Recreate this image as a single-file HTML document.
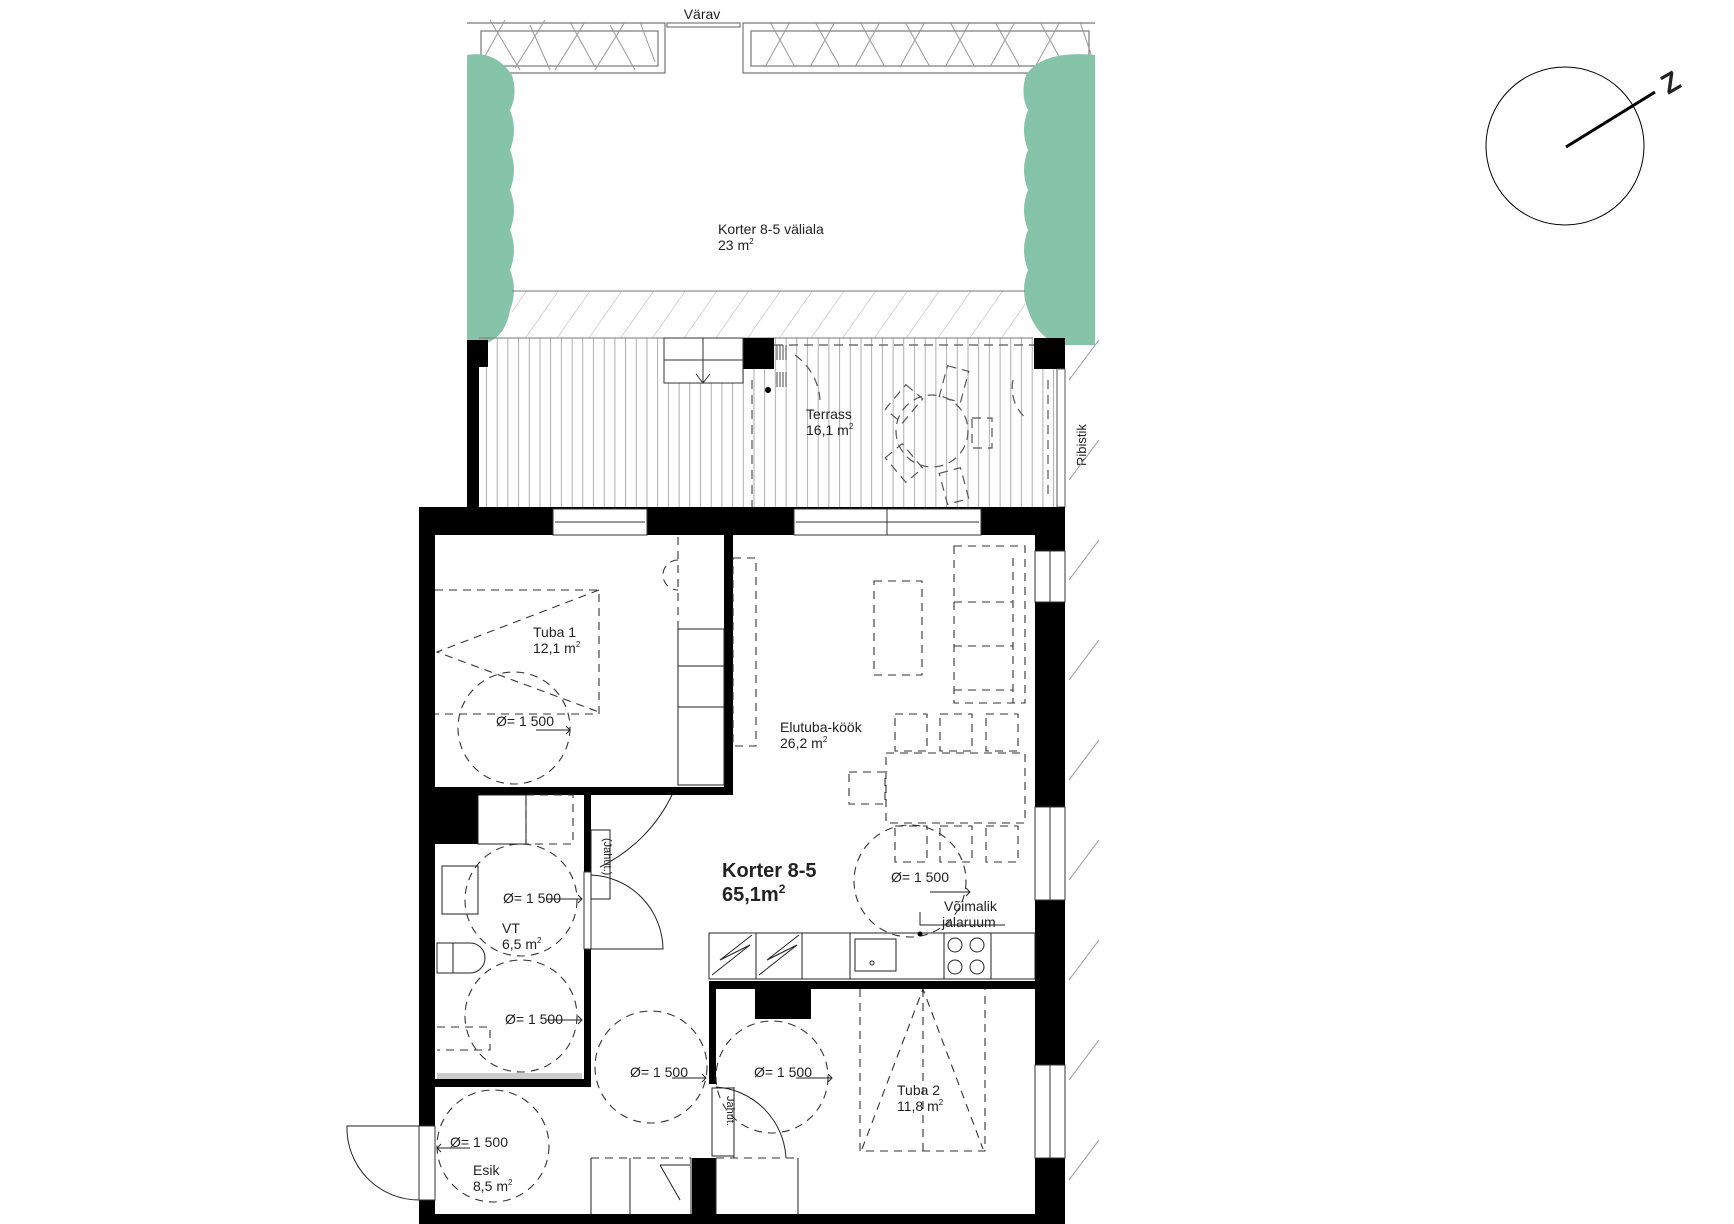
<!DOCTYPE html>
<html><head><meta charset="utf-8"><style>
html,body{margin:0;padding:0;background:#fff;}
svg{display:block;}
text{font-family:"Liberation Sans",sans-serif;fill:#222;}
</style></head><body>
<svg width="1734" height="1224" viewBox="0 0 1734 1224" xmlns="http://www.w3.org/2000/svg">
<defs>
<pattern id="vs" width="10.7" height="20" patternUnits="userSpaceOnUse"><line x1="5" y1="0" x2="5" y2="20" stroke="#999" stroke-width="0.8"/></pattern>
<pattern id="dg" width="26" height="26" patternUnits="userSpaceOnUse" patternTransform="rotate(35)"><line x1="0" y1="0" x2="0" y2="26" stroke="#999" stroke-width="0.8"/></pattern>
</defs>

<!-- planters -->
<g fill="none" stroke="#777" stroke-width="1.2">
<path d="M467 23 H665 V73 H481"/><rect x="481" y="31" width="177" height="35"/>
<rect x="667" y="23" width="73" height="4"/>
<path d="M1095 23 H743 V73 H1095"/><rect x="751" y="31" width="338" height="35"/>
</g>
<g stroke="#999" stroke-width="1" fill="none">
<path d="M490 20 l30 50 M505 20 l-25 45 M530 25 l20 45 M545 20 l-30 48 M570 22 l25 45 M585 22 l-30 48 M610 25 l25 45 M625 22 l-30 48 M640 22 l15 40"/>
<path d="M770 22 l25 45 M790 22 l-25 45 M815 22 l25 45 M835 22 l-25 45 M860 22 l25 45 M880 22 l-25 45 M905 22 l25 45 M925 22 l-25 45 M950 22 l25 45 M970 22 l-25 45 M995 22 l25 45 M1015 22 l-25 45 M1040 22 l25 45 M1060 22 l-25 45 M1080 22 l12 35"/>
</g>
<text x="702" y="19" font-size="14" text-anchor="middle">Värav</text>

<!-- hedges -->
<g fill="#86c4aa">
<path d="M467 55 Q495 50 512 75 Q518 95 510 110 Q518 130 510 150 Q518 170 510 190 Q518 210 510 230 Q518 250 510 270 Q518 290 510 310 Q505 340 480 345 L467 345 Z"/>
<path d="M1095 55 Q1043 50 1026 75 Q1020 95 1028 110 Q1020 130 1028 150 Q1020 170 1028 190 Q1020 210 1028 230 Q1020 250 1028 270 Q1020 290 1028 310 Q1038 340 1063 345 L1095 345 Z"/>
</g>
<text x="718" y="234" font-size="14">Korter 8-5 väliala</text>
<text x="718" y="250" font-size="14">23 m<tspan font-size="8" dy="-6">2</tspan></text>

<!-- hatched band -->
<rect x="512" y="291" width="513" height="47" fill="url(#dg)"/>
<line x1="512" y1="291" x2="1025" y2="291" stroke="#777"/>

<!-- terrace -->
<rect x="479" y="338" width="586" height="169" fill="url(#vs)"/>
<line x1="479" y1="338" x2="1033" y2="338" stroke="#777"/>
<path d="M467 340 H488 V367 H479 V507 H467 Z" fill="#000"/>
<rect x="743" y="338" width="31" height="31" fill="#000"/>
<rect x="1034" y="338" width="31" height="31" fill="#000"/>
<rect x="664" y="338" width="79" height="45" fill="#fff" stroke="#333"/>
<line x1="664" y1="360" x2="743" y2="360" stroke="#333"/>
<path d="M703 338 V383 M696 374 l7 9 l7 -9" stroke="#333" fill="none"/>
<rect x="1057" y="369" width="8" height="138" fill="#fff" stroke="#555"/>
<g stroke="#555" stroke-width="1.2" stroke-dasharray="9 6" fill="none">
<path d="M774 345 H1034"/>
<path d="M752 380 V507"/><path d="M1048 380 V500"/>
<circle cx="932" cy="431" r="36"/>
<rect x="893" y="388" width="22" height="32" transform="rotate(40 904 404)"/>
<rect x="943" y="368" width="22" height="32" transform="rotate(15 954 384)"/>
<rect x="972" y="418" width="20" height="30"/>
<rect x="893" y="447" width="22" height="32" transform="rotate(-40 904 463)"/>
<rect x="943" y="470" width="22" height="32" transform="rotate(-15 954 486)"/>
<path d="M795 355 A60 60 0 0 1 820 400"/><path d="M1013 380 A40 40 0 0 0 1028 420"/>
</g>
<circle cx="768" cy="390" r="3" fill="#000"/>
<g stroke="#444" stroke-width="1"><path d="M777 345 v15 M780 345 v15 M783 345 v15 M786 345 v15 M777 372 v15 M780 372 v15 M783 372 v15 M786 372 v15"/></g>
<text x="806" y="419" font-size="14">Terrass</text>
<text x="806" y="435" font-size="14">16,1 m<tspan font-size="8" dy="-6">2</tspan></text>
<text x="0" y="0" font-size="13" transform="translate(1086 466) rotate(-90)">Ribistik</text>
<g stroke="#999"><path d="M1069 380 l30 -40 M1069 480 l30 -40 M1069 580 l30 -40 M1069 680 l30 -40 M1069 780 l30 -40 M1069 880 l30 -40 M1069 980 l30 -40 M1069 1080 l30 -40 M1069 1180 l30 -40"/></g>

<!-- compass -->
<circle cx="1565" cy="146" r="79" fill="none" stroke="#000" stroke-width="1"/>
<line x1="1566" y1="147" x2="1655" y2="92" stroke="#000" stroke-width="3"/>
<text x="0" y="0" font-size="28" font-weight="bold" transform="translate(1668 95) rotate(-30)">Z</text>

<!-- apartment walls -->
<g fill="#000">
<rect x="419" y="507" width="646" height="28"/>
<rect x="419" y="507" width="16" height="717"/>
<rect x="1035" y="507" width="30" height="717"/>
<rect x="419" y="1214" width="646" height="10"/>
<rect x="724" y="535" width="9" height="260"/>
<rect x="435" y="787" width="237" height="8"/>
<rect x="672" y="787" width="61" height="8"/>
<rect x="435" y="795" width="43" height="49"/>
<rect x="584" y="795" width="7" height="77"/>
<rect x="584" y="949" width="7" height="138"/>
<rect x="435" y="1079" width="156" height="8"/>
<rect x="709" y="981" width="7" height="103"/>
<rect x="692" y="1158" width="24" height="56"/>
<rect x="709" y="981" width="326" height="8"/>
<rect x="755" y="989" width="56" height="30"/>
</g>
<rect x="437" y="1073" width="145" height="6" fill="#ccc"/>
<!-- windows -->
<g fill="#fff" stroke="#333" stroke-width="1">
<rect x="553" y="509" width="94" height="26"/><line x1="555" y1="522" x2="645" y2="522"/>
<rect x="794" y="509" width="187" height="26"/><line x1="796" y1="522" x2="979" y2="522"/><line x1="887" y1="509" x2="887" y2="535"/>
<rect x="1035" y="551" width="30" height="51"/><line x1="1050" y1="551" x2="1050" y2="602"/>
<rect x="1035" y="807" width="30" height="93"/><line x1="1050" y1="807" x2="1050" y2="900"/>
<rect x="1035" y="1065" width="30" height="93"/><line x1="1050" y1="1065" x2="1050" y2="1158"/>
<rect x="419" y="1126" width="16" height="74"/>
<rect x="584" y="872" width="7" height="77"/>
</g>
<!-- doors -->
<g fill="none" stroke="#222" stroke-width="1">
<path d="M672 795 A155 155 0 0 1 600 867"/>
<path d="M591 949 H663 A75 75 0 0 0 591 875"/>
<path d="M419 1126 H347 A72 72 0 0 0 419 1200"/>
<path d="M734 1087 V1158 M716 1087 A75 75 0 0 1 786 1158"/>
<rect x="591" y="830" width="19" height="69"/>
<rect x="712" y="1088" width="22" height="68"/>
</g>
<text x="0" y="0" font-size="11" transform="translate(604 838) rotate(90)">(Jahut.)</text>
<text x="0" y="0" font-size="11" transform="translate(727 1096) rotate(90)">Jahut.</text>

<!-- furniture dashed -->
<g fill="none" stroke="#333" stroke-width="1.1" stroke-dasharray="8 6">
<path d="M435 590 H599 V714 H435"/><path d="M599 590 L437 652 L599 712"/>
<path d="M678 537 V629"/><path d="M678 560 A12 12 0 0 0 678 590"/>
<rect x="733" y="558" width="23" height="188"/>
<rect x="874" y="581" width="48" height="94"/>
<rect x="954" y="546" width="71" height="157"/><path d="M1013 558 V703 M954 602 H1013 M954 646 H1013 M954 690 H1013"/>
<rect x="886" y="753" width="139" height="70"/>
<rect x="895" y="714" width="32" height="37"/><rect x="940" y="714" width="32" height="37"/><rect x="986" y="714" width="32" height="37"/>
<rect x="895" y="826" width="32" height="36"/><rect x="940" y="826" width="32" height="36"/><rect x="986" y="826" width="32" height="36"/>
<rect x="849" y="772" width="36" height="32"/>
<circle cx="514" cy="728" r="56"/>
<circle cx="910" cy="881" r="56"/>
<circle cx="521" cy="900" r="56"/>
<circle cx="521" cy="1016" r="56"/>
<circle cx="651" cy="1067" r="56"/>
<circle cx="772" cy="1077" r="56"/>
<circle cx="493" cy="1146" r="56"/>
<path d="M860 989 V1151 H985 V989"/><path d="M862 1149 L923 989 L983 1149 M923 989 V1151"/>
<rect x="526" y="795" width="47" height="49"/>
<path d="M437 1027 H490 V1050 H437"/>
<path d="M591 1158 H691 M716 1158 H798"/>
</g>
<!-- solid furniture -->
<g fill="none" stroke="#222" stroke-width="1">
<rect x="678" y="629" width="46" height="156"/><path d="M678 666 H724 M678 707 H724"/>
<rect x="709" y="933" width="326" height="46"/>
<path d="M756 933 V979 M802 933 V979 M850 933 V979 M944 933 V979 M991 933 V979"/>
<path d="M712 975 L750 945 L720 960 L752 935 M759 975 L797 945 L767 960 L799 935"/>
<rect x="855" y="939" width="41" height="32"/><circle cx="872" cy="963" r="2"/>
<circle cx="955" cy="945" r="7"/><circle cx="977" cy="945" r="7"/><circle cx="955" cy="967" r="7"/><circle cx="977" cy="967" r="7"/>
<path d="M920 912 V925 H1005"/>
<rect x="442" y="866" width="36" height="48"/>
<path d="M437 943 H470 A15 15 0 0 1 470 973 H437 Z"/><path d="M453 943 V973"/>
<rect x="478" y="795" width="48" height="49"/>
<path d="M591 1158 V1214 M630 1158 V1214 M691 1158 V1214 M716 1158 V1214 M798 1158 V1214"/>
<path d="M660 1165 L680 1200 M660 1165 H690"/>
</g>
<circle cx="920" cy="934" r="2.5" fill="#000"/>

<!-- arrows for Ø -->
<g stroke="#222" stroke-width="1" fill="none">
<path d="M536 730 H570 M566 726 l4 4 l-4 4"/>
<path d="M930 892 H970 M966 888 l4 4 l-4 4"/>
<path d="M547 899 H582 M578 895 l4 4 l-4 4"/>
<path d="M547 1020 H582 M578 1016 l4 4 l-4 4"/>
<path d="M672 1078 H706 M702 1074 l4 4 l-4 4"/>
<path d="M796 1078 H832 M828 1074 l4 4 l-4 4"/>
<path d="M470 1148 H437 M441 1144 l-4 4 l4 4"/>
</g>

<!-- labels -->
<g font-size="14">
<text x="533" y="637">Tuba 1</text><text x="533" y="653">12,1 m<tspan font-size="8" dy="-6">2</tspan></text>
<text x="496" y="726">Ø= 1 500</text>
<text x="780" y="732">Elutuba-köök</text><text x="780" y="748">26,2 m<tspan font-size="8" dy="-6">2</tspan></text>
<text x="891" y="882">Ø= 1 500</text>
<text x="944" y="911">Võimalik</text><text x="942" y="927">jalaruum</text>
<text x="503" y="903">Ø= 1 500</text>
<text x="502" y="933">VT</text><text x="502" y="949">6,5 m<tspan font-size="8" dy="-6">2</tspan></text>
<text x="505" y="1024">Ø= 1 500</text>
<text x="630" y="1077">Ø= 1 500</text>
<text x="754" y="1077">Ø= 1 500</text>
<text x="897" y="1095">Tuba 2</text><text x="897" y="1111">11,8 m<tspan font-size="8" dy="-6">2</tspan></text>
<text x="450" y="1147">Ø= 1 500</text>
<text x="473" y="1175">Esik</text><text x="473" y="1191">8,5 m<tspan font-size="8" dy="-6">2</tspan></text>
</g>
<text x="722" y="877" font-size="20" font-weight="bold">Korter 8-5</text>
<text x="722" y="901" font-size="20" font-weight="bold">65,1m<tspan font-size="12" dy="-8">2</tspan></text>
</svg>
</body></html>
